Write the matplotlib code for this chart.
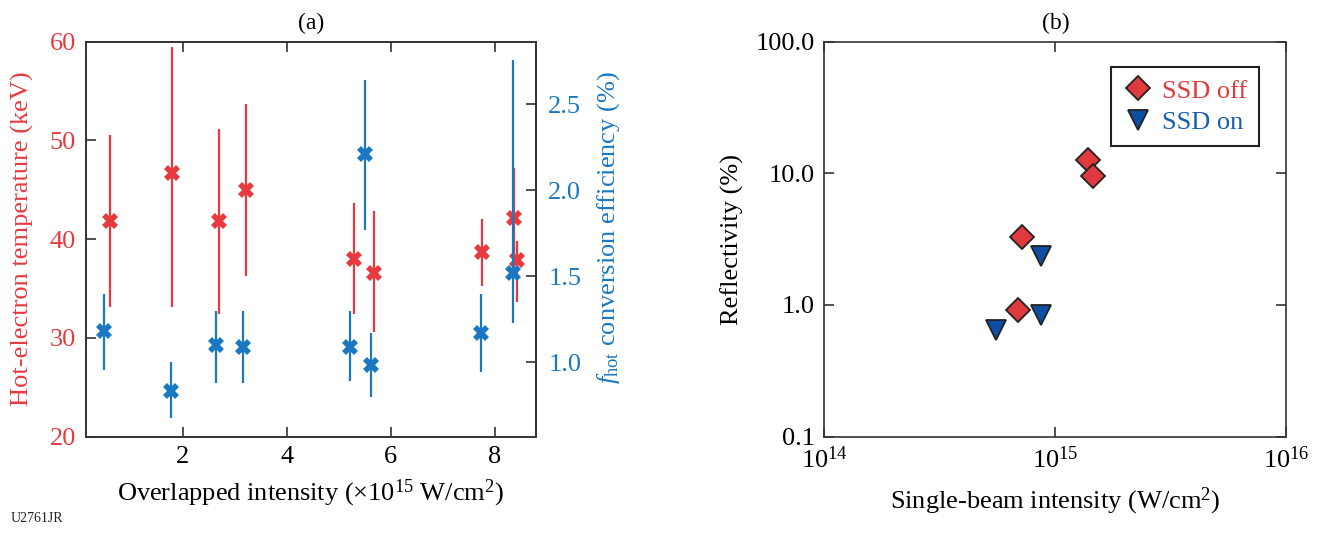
import matplotlib
matplotlib.use("Agg")
import matplotlib.pyplot as plt
import numpy as np

plt.rcParams['font.family'] = ['Liberation Serif', 'DejaVu Serif']
plt.rcParams['mathtext.fontset'] = 'custom'
plt.rcParams['mathtext.rm'] = 'Liberation Serif'
plt.rcParams['mathtext.it'] = 'Liberation Serif:italic'
plt.rcParams['mathtext.default'] = 'regular'

RED = '#e63a3f'
BLUE = '#1a78c2'
DRED = '#e0393e'
DBLUE = '#0d4fa3'
SPINE = '#333333'
FS = 19

# (a) hot-electron temperature, keV
x_temp = [0.59, 1.80, 2.69, 3.21, 5.29, 5.67, 7.76, 8.37, 8.43]
temp = [41.8, 46.7, 41.8, 45.0, 38.0, 36.6, 38.7, 42.1, 37.9]
temp_hi = [50.5, 59.4, 51.1, 53.7, 43.7, 42.8, 42.0, 47.2, 39.8]
temp_lo = [33.1, 33.1, 32.4, 36.3, 32.4, 30.6, 35.2, 37.0, 33.6]

# (a) f_hot conversion efficiency, %
x_fhot = [0.49, 1.77, 2.64, 3.16, 5.22, 5.51, 5.62, 7.73, 8.36]
fhot = [1.18, 0.835, 1.10, 1.09, 1.09, 2.21, 0.985, 1.17, 1.52]
fhot_hi = [1.40, 1.00, 1.30, 1.30, 1.30, 2.64, 1.17, 1.40, 2.76]
fhot_lo = [0.956, 0.677, 0.88, 0.88, 0.89, 1.77, 0.80, 0.946, 1.23]

# (b) reflectivity vs single-beam intensity
off_int = [1.39e15, 1.45e15, 7.2e14, 6.9e14]
off_refl = [12.5, 9.6, 3.3, 0.92]
on_int = [8.7e14, 8.7e14, 5.55e14]
on_refl = [2.35, 0.84, 0.64]

refl_ticks = [0.1, 1, 10, 100]
refl_labels = ['0.1', '1.0', '10.0', '100.0']


def style_spines(ax):
    for s in ax.spines.values():
        s.set_color(SPINE)
        s.set_linewidth(1.2)


fig = plt.figure(figsize=(13.28, 5.33), dpi=100)

# ---- panel (a)
ax1 = fig.add_axes([0.0645, 0.181, 0.339, 0.741])
ax2 = ax1.twinx()

t = np.array(temp)
ax1.errorbar(x_temp, t, yerr=[t - np.array(temp_lo), np.array(temp_hi) - t],
             fmt='X', color=RED, ms=11, mew=0, elinewidth=1.6, capsize=0, zorder=3)
f = np.array(fhot)
ax2.errorbar(x_fhot, f, yerr=[f - np.array(fhot_lo), np.array(fhot_hi) - f],
             fmt='X', color=BLUE, ms=11, mew=0, elinewidth=1.6, capsize=0, zorder=3)

ax1.set_xlim(0.13, 8.79)
ax1.set_ylim(20, 60)
ax2.set_ylim(0.568, 2.866)
ax1.set_xticks([2, 4, 6, 8])
ax1.set_yticks([20, 30, 40, 50, 60])
ax2.set_yticks([1.0, 1.5, 2.0, 2.5])
ax2.set_yticklabels(['1.0', '1.5', '2.0', '2.5'])

ax1.tick_params(axis='x', direction='in', top=True, length=7, width=1.2,
                color=SPINE, labelsize=FS, pad=7)
ax1.tick_params(axis='y', direction='in', length=7, width=1.2, color=SPINE,
                labelcolor=RED, labelsize=FS, pad=7)
ax2.tick_params(axis='y', direction='in', length=7, width=1.2, color=SPINE,
                labelcolor=BLUE, labelsize=FS, pad=9)
style_spines(ax1)
style_spines(ax2)

ax1.set_ylabel('Hot-electron temperature (keV)', color=RED, fontsize=FS, labelpad=11)
ax2.set_ylabel(r'$\mathit{f}_{\rm hot}$ conversion efficiency (%)', color=BLUE,
               fontsize=FS, labelpad=10)
ax2.yaxis.label.set_y(0.53)
ax1.set_xlabel(r'Overlapped intensity (×10$^{15}$ W/cm$^2$)', fontsize=FS, labelpad=7)
ax1.set_title('(a)', fontsize=17, pad=9)

# ---- panel (b)
ax3 = fig.add_axes([0.6208, 0.181, 0.3478, 0.741])
ax3.set_xscale('log')
ax3.set_yscale('log')
ax3.plot(off_int, off_refl, 'D', ms=12.5, mfc=DRED, mec='#222222', mew=1.3,
         label='SSD off', zorder=3)
ax3.plot(on_int, on_refl, 'v', ms=15, mfc=DBLUE, mec='#222222', mew=1.3,
         label='SSD on', zorder=3)
ax3.set_xlim(1e14, 1e16)
ax3.set_ylim(0.1, 100)
ax3.set_xticks([1e14, 1e15, 1e16])
ax3.set_yticks(refl_ticks)
ax3.set_yticklabels(refl_labels)
ax3.minorticks_off()
ax3.tick_params(direction='in', top=True, right=True, length=7, width=1.2,
                color=SPINE, labelsize=FS, pad=7)
style_spines(ax3)
ax3.set_xlabel(r'Single-beam intensity (W/cm$^2$)', fontsize=FS, labelpad=9)
ax3.set_ylabel('Reflectivity (%)', fontsize=FS, labelpad=8)
ax3.set_title('(b)', fontsize=17, pad=9)

leg = ax3.legend(loc='upper right', bbox_to_anchor=(0.941, 0.935), fontsize=FS,
                 borderaxespad=0, fancybox=False, framealpha=1, edgecolor='#222222',
                 handletextpad=0.3, handlelength=1.2, borderpad=0.45,
                 labelspacing=0.3, labelcolor=[DRED, '#1a5fae'])
leg.get_frame().set_linewidth(1.5)

fig.text(0.008, 0.02, 'U2761JR', fontsize=10, color='#222222')

fig.savefig('out.png', dpi=100)
